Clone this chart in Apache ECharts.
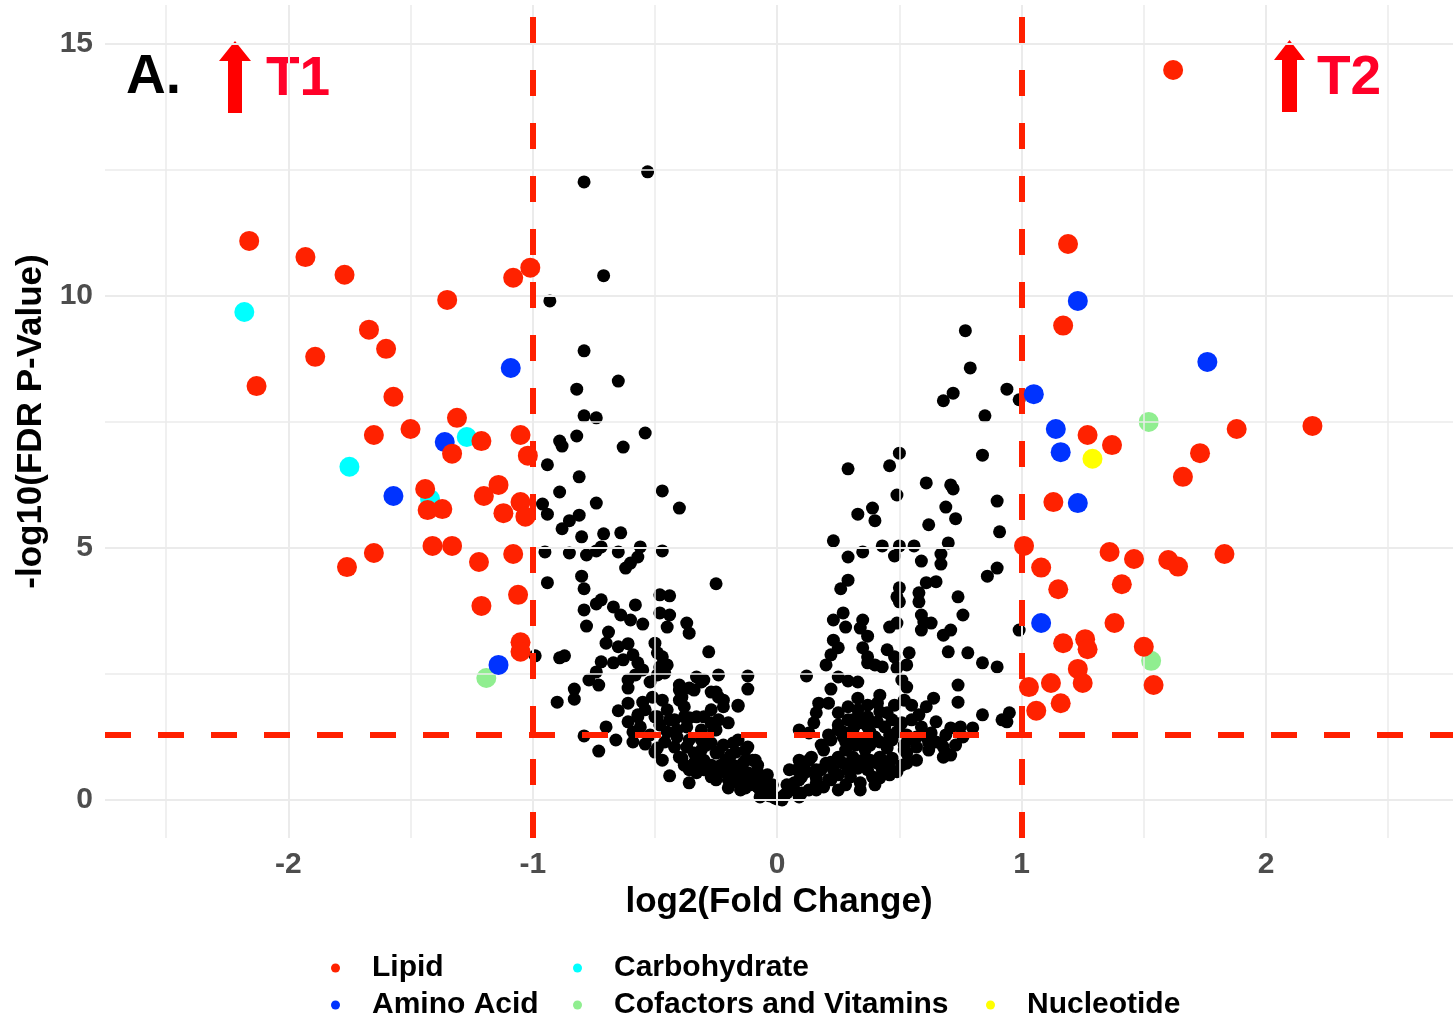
<!DOCTYPE html>
<html><head><meta charset="utf-8">
<script src="https://cdn.jsdelivr.net/npm/echarts@6/dist/echarts.min.js"></script>
<style>html,body{margin:0;padding:0;background:#fff}#chart{width:1453px;height:1026px}</style>
</head><body><div id="chart"></div>
<script>
// ---- tick labels and reference lines ----
const xTicks = [-2, -1, 0, 1, 2];
const yTicks = [0, 5, 10, 15];
const xGridMajor = [-2, -1, 0, 1, 2];
const xGridMinor = [-2.5, -1.5, -0.5, 0.5, 1.5, 2.5];
const yGridMajor = [0, 5, 10, 15];
const yGridMinor = [2.5, 7.5, 12.5];
const fcCutoffs = [-1, 1];
const pCutoff = 1.301;
const categories = ['Lipid', 'Amino Acid', 'Carbohydrate', 'Cofactors and Vitamins', 'Nucleotide'];

// ---- series values: [log2FC, -log10 FDR p] ----
const lipid = [
[-2.16,11.09],[-1.93,10.77],[-1.77,10.42],[-1.35,9.92],[-1.67,9.33],[-1.60,8.95],[-1.89,8.79],[-2.13,8.21],
[-1.57,8.00],[-1.31,7.58],[-1.50,7.36],[-1.65,7.24],[-1.21,7.12],[-1.05,7.24],[-1.02,6.83],[-1.33,6.87],
[-1.01,10.56],[-1.08,10.36],[-1.44,6.17],[-1.43,5.75],[-1.37,5.77],[-1.14,6.25],[-1.20,6.03],[-1.12,5.69],
[-1.05,5.91],[-1.03,5.62],[-1.41,5.04],[-1.33,5.04],[-1.65,4.90],[-1.76,4.62],[-1.22,4.72],[-1.08,4.88],
[-1.06,4.07],[-1.21,3.85],[-1.05,3.13],[-1.05,2.94],
[1.62,14.48],[1.19,11.03],[1.17,9.41],[1.27,7.24],[1.37,7.04],[1.88,7.36],[2.19,7.42],[1.73,6.88],
[1.66,6.41],[1.13,5.91],[1.01,5.04],[1.36,4.92],[1.46,4.78],[1.60,4.76],[1.64,4.63],[1.83,4.88],
[1.08,4.61],[1.15,4.18],[1.41,4.28],[1.38,3.51],[1.17,3.11],[1.26,3.19],[1.27,2.99],[1.50,3.04],
[1.54,2.28],[1.23,2.60],[1.25,2.32],[1.03,2.24],[1.12,2.32],[1.16,1.92],[1.06,1.77]
];
const aminoAcid = [[-1.09,8.57],[-1.36,7.10],[-1.57,6.03],[-1.14,2.68],[1.23,9.90],[1.76,8.69],[1.05,8.05],[1.14,7.36],[1.16,6.90],[1.23,5.89],[1.08,3.51]];
const carbohydrate = [[-2.18,9.68],[-1.27,7.20],[-1.75,6.61],[-1.42,5.97]];
const cofactors = [[-1.19,2.42],[1.52,7.50],[1.53,2.76]];
const nucleotide = [[1.29,6.77]];
const other = [
[-0.53,12.46],[-0.79,12.26],[-0.71,10.40],[-0.93,9.90],[-0.79,8.91],[-0.65,8.31],[-0.82,8.15],[-0.79,7.62],[-0.74,7.58],[-0.54,7.28],
[-0.89,7.12],[-0.88,7.02],[-0.82,7.22],[-0.63,7.00],[-0.94,6.65],[-0.81,6.41],[-0.89,6.11],[-0.47,6.13],[-0.40,5.79],[-0.74,5.89],
[-0.96,5.87],[-0.94,5.67],[-0.81,5.65],[-0.85,5.54],[-0.88,5.38],[-0.80,5.22],[-0.71,5.28],[-0.64,5.30],[-0.95,4.92],[-0.85,4.90],
[-0.78,4.86],[-0.74,4.94],[-0.72,5.02],[-0.65,4.92],[-0.56,5.02],[-0.57,4.82],[-0.60,4.70],[-0.62,4.60],[-0.47,4.94],[-0.80,4.44],
[-0.94,4.31],[-0.79,4.19],[-0.25,4.29],[-0.48,4.07],[-0.44,4.05],[-0.72,3.97],[-0.74,3.89],[-0.79,3.77],[-0.67,3.83],[-0.58,3.87],
[-0.64,3.67],[-0.60,3.57],[-0.48,3.71],[-0.44,3.67],[-0.45,3.43],[-0.55,3.49],[-0.37,3.51],[-0.36,3.31],[-0.78,3.45],[-0.69,3.33],
[-0.70,3.11],[-0.65,3.04],[-0.61,3.10],[-0.50,3.11],[-0.49,2.92],[-0.99,2.86],[-0.89,2.82],[-0.87,2.86],[-0.28,2.94],[-0.72,2.74],
[-0.67,2.72],[-0.63,2.78],[-0.59,2.88],[-0.57,2.72],[-0.55,2.58],[-0.74,2.54],[-0.77,2.38],[-0.73,2.28],[-0.61,2.38],[-0.61,2.22],
[-0.58,2.48],[-0.52,2.34],[-0.49,2.48],[-0.46,2.52],[-0.45,2.68],[-0.83,2.20],[-0.83,2.00],[-0.90,1.94],[-0.40,2.28],[-0.36,2.22],
[-0.33,2.44],[-0.30,2.38],[-0.24,2.48],[-0.12,2.46],[-0.12,2.20],[-0.25,2.14],[-0.22,1.98],[-0.16,1.86],[-0.61,1.92],[-0.65,1.77],
[-0.55,1.94],[-0.57,1.65],[-0.54,1.79],[-0.51,2.04],[-0.47,1.98],[-0.49,1.65],[-0.45,1.79],[-0.44,1.59],[-0.40,1.98],[-0.38,1.85],
[-0.38,1.65],[-0.37,1.45],[-0.30,1.65],[-0.27,1.79],[-0.27,1.53],[-0.25,1.39],[-0.20,1.53],[-0.70,1.45],[-0.79,1.27],[-0.73,0.97],
[-0.59,1.35],[-0.59,1.15],[-0.54,1.11],[-0.49,1.03],[-0.46,1.15],[-0.45,1.35],[-0.41,1.25],[-0.37,1.05],[-0.39,0.83],[-0.34,0.93],
[-0.31,1.19],[-0.27,1.13],[-0.30,0.79],[-0.22,1.09],[-0.19,0.89],[-0.16,1.19],[-0.12,1.05],[-0.09,0.79],[-0.14,0.73],[-0.44,0.48],
[-0.36,0.34],[-0.33,0.54],[-0.26,0.46],[-0.19,0.36],[-0.15,0.20],[-0.11,0.30],[-0.06,0.40],[-0.03,0.16],[0.01,0.04],[0.04,0.30],
[-0.07,0.06],[-0.47,2.84],[-0.48,2.64],[-0.40,2.18],[-0.39,2.04],[-0.34,2.18],[-0.31,2.34],[-0.27,2.14],[-0.24,2.04],[-0.22,1.85],
[-0.16,1.88],[-0.57,1.69],[-0.50,1.65],[-0.41,1.39],[-0.36,1.63],[-0.33,1.65],[-0.26,1.39],[-0.24,1.59],[-0.42,1.05],[-0.25,0.93],
[-0.18,1.13],[-0.13,0.99],[-0.10,0.79],[-0.40,0.85],[-0.34,0.73],[-0.30,0.60],[-0.27,0.46],[-0.25,0.65],[-0.20,0.40],[-0.16,0.34],
[-0.13,0.24],[-0.10,0.40],[-0.07,0.20],[-0.04,0.10],[-0.01,0.04],[0.00,0.02],[-0.23,0.69],[-0.18,0.60],[-0.13,0.50],[-0.08,0.56],
[-0.05,0.28],
[-0.52,1.29],[-0.48,1.49],[-0.42,1.59],[-0.36,1.19],[-0.31,1.39],[-0.29,1.09],[-0.24,0.95],[-0.21,0.79],[-0.18,0.69],[-0.15,0.60],
[-0.12,0.54],[-0.10,0.36],[-0.08,0.26],[-0.05,0.16],[-0.03,0.08],[-0.13,0.40],[-0.17,0.50],[-0.22,0.56],[-0.27,0.69],[-0.33,0.79],
[-0.38,0.69],[-0.25,0.40],[-0.20,0.24],[-0.31,0.99],[-0.47,0.79],[-0.36,0.60],[-0.17,0.95],[-0.13,0.79],[-0.08,0.69],[-0.04,0.50],
[-0.02,0.30],[-0.07,0.46],[-0.56,1.45],[-0.61,1.55],[-0.66,1.19],[-0.50,0.95],
[0.77,9.31],[0.79,8.57],[0.94,8.15],[0.72,8.07],[0.68,7.92],[0.85,7.62],[0.99,7.94],[0.50,6.88],[0.46,6.63],[0.29,6.57],
[0.84,6.84],[0.61,6.29],[0.71,6.25],[0.72,6.17],[0.49,6.05],[0.90,5.93],[0.39,5.79],[0.40,5.54],[0.33,5.67],[0.69,5.81],
[0.73,5.58],[0.62,5.46],[0.91,5.32],[0.23,5.14],[0.35,4.92],[0.29,4.82],[0.43,5.04],[0.50,5.04],[0.56,5.04],[0.70,5.10],
[0.67,4.88],[0.48,4.84],[0.59,4.74],[0.67,4.68],[0.90,4.60],[0.86,4.44],[0.29,4.36],[0.26,4.19],[0.50,4.21],[0.49,4.03],
[0.50,3.93],[0.61,4.31],[0.65,4.33],[0.58,4.11],[0.58,3.93],[0.74,4.03],[0.76,3.67],[0.99,3.37],[0.23,3.57],[0.27,3.71],
[0.28,3.43],[0.35,3.57],[0.34,3.41],[0.37,3.25],[0.46,3.43],[0.49,3.51],[0.59,3.67],[0.60,3.53],[0.63,3.51],[0.59,3.37],
[0.68,3.27],[0.71,3.37],[0.23,3.17],[0.25,3.02],[0.22,2.88],[0.20,2.68],[0.35,3.02],[0.37,2.84],[0.37,2.72],[0.40,2.68],
[0.43,2.64],[0.45,2.98],[0.48,2.84],[0.54,2.92],[0.53,2.68],[0.49,2.62],[0.70,2.94],[0.78,2.92],[0.84,2.72],[0.90,2.64],
[0.12,2.46],[0.25,2.44],[0.29,2.36],[0.33,2.34],[0.22,2.20],[0.51,2.38],[0.53,2.24],[0.52,1.98],[0.42,2.08],[0.41,1.92],
[0.74,2.28],[0.74,1.94],[0.64,2.02],[0.61,1.85],[0.17,1.92],[0.21,1.92],[0.16,1.73],[0.25,1.73],[0.29,1.85],[0.33,1.79],
[0.31,1.59],[0.37,1.65],[0.41,1.55],[0.45,1.73],[0.47,1.59],[0.51,1.53],[0.55,1.59],[0.84,1.69],[0.92,1.59],[0.95,1.73],
[0.94,1.55],[0.71,1.43],[0.75,1.45],[0.80,1.43],[0.76,1.25],[0.09,1.39],[0.13,1.33],[0.15,1.53],[0.25,1.49],[0.27,1.35],
[0.31,1.39],[0.35,1.53],[0.38,1.35],[0.44,1.45],[0.46,1.29],[0.49,1.35],[0.53,1.29],[0.57,1.25],[0.61,1.25],[0.65,1.15],
[0.68,1.05],[0.68,0.85],[0.62,0.99],[0.57,1.05],[0.53,0.93],[0.47,0.83],[0.51,0.69],[0.49,0.56],[0.42,0.85],[0.41,0.73],
[0.42,0.44],[0.35,0.79],[0.37,0.60],[0.31,0.85],[0.71,0.89],[0.33,2.02],[0.50,1.39],[0.59,1.45],[0.63,1.33],[0.67,1.13],
[0.69,0.93],[0.62,1.13],[0.56,1.19],[0.52,0.99],[0.53,0.73],[0.46,0.73],[0.43,0.60],[0.39,0.46],[0.34,0.34],[0.30,0.46],
[0.30,0.73],[0.36,0.99],[0.40,1.25],[0.37,1.45],[0.33,1.65],[0.29,1.59],[0.25,1.39],[0.27,1.25],[0.31,1.25],[0.22,1.19],
[0.19,0.99],[0.04,0.14],[0.07,0.34],[0.10,0.46],[0.13,0.20],[0.16,0.34],[0.19,0.26],[0.22,0.40],[0.25,0.20],[0.11,0.65],
[0.16,0.60],[0.20,0.73],[0.23,0.60],[0.27,0.73],[0.14,0.85],[0.09,0.79],[0.05,0.60],[0.09,0.06],[0.02,0.00],[0.07,0.20],
[0.03,0.10],[0.06,0.26],[0.09,0.40],[0.12,0.56],[0.16,0.44],[0.18,0.60],[0.22,0.75],[0.25,0.85],[0.28,0.99],[0.32,1.09],
[0.35,1.19],[0.38,1.09],[0.42,1.15],[0.45,1.03],[0.47,1.19],[0.33,0.63],[0.29,0.60],[0.25,0.50],[0.21,0.40],[0.16,0.20],
[0.10,0.14],[0.08,0.60],[0.13,0.79],[0.18,1.09],[0.21,1.29],[0.28,1.15],[0.32,1.49],[0.37,1.88],[0.42,1.75],[0.48,1.88],
[0.55,1.88],[0.58,1.69],[0.65,1.55],[0.69,1.29],[0.73,1.09],[0.52,1.09],[0.38,0.79],[0.44,0.69],[0.40,0.30],[0.34,0.20],
[0.28,0.30],[0.46,0.50],[0.57,0.79]
];

const FONT = '"Liberation Sans", Arial, sans-serif';
const chart = echarts.init(document.getElementById('chart'), null, {renderer: 'canvas'});

const gridLines = []
  .concat(xGridMajor.map(v => ({xAxis: v, lineStyle: {width: 2}})))
  .concat(xGridMinor.map(v => ({xAxis: v, lineStyle: {width: 1.5}})))
  .concat(yGridMajor.map(v => ({yAxis: v, lineStyle: {width: 2}})))
  .concat(yGridMinor.map(v => ({yAxis: v, lineStyle: {width: 1.5}})));

const threshLines = fcCutoffs.map(v => ({xAxis: v})).concat([{yAxis: pCutoff}]);

const colorMap = {
  'Lipid': '#ff2200',
  'Amino Acid': '#0033ff',
  'Carbohydrate': '#00ffff',
  'Cofactors and Vitamins': '#90ee90',
  'Nucleotide': '#ffff00'
};
const dataMap = {
  'Lipid': lipid,
  'Amino Acid': aminoAcid,
  'Carbohydrate': carbohydrate,
  'Cofactors and Vitamins': cofactors,
  'Nucleotide': nucleotide
};
const drawOrder = ['Cofactors and Vitamins', 'Nucleotide', 'Carbohydrate', 'Amino Acid', 'Lipid'];

const legendText = {color: '#000', fontSize: 30, fontWeight: 'bold', fontFamily: FONT, padding: [0, 0, 0, 27]};
function legendAt(name, left, top) {
  return {
    data: [name], left: left, top: top, icon: 'circle',
    itemWidth: 9, itemHeight: 9, selectedMode: false,
    textStyle: legendText
  };
}

const option = {
  animation: false,
  backgroundColor: '#fff',
  grid: {left: 105, right: 0, top: 5, bottom: 188, containLabel: false},
  xAxis: {
    type: 'value', min: -2.75, max: 2.765,
    name: 'log2(Fold Change)', nameLocation: 'middle', nameGap: 45,
    nameTextStyle: {color: '#000', fontSize: 35, fontWeight: 'bold', fontFamily: FONT},
    axisLine: {show: false}, axisTick: {show: false}, splitLine: {show: false},
    axisLabel: {customValues: xTicks, margin: 12, color: '#4d4d4d', fontSize: 30, fontWeight: 'bold', fontFamily: FONT}
  },
  yAxis: {
    type: 'value', min: -0.754, max: 15.77,
    name: '-log10(FDR P-Value)', nameLocation: 'middle', nameGap: 56,
    nameTextStyle: {color: '#000', fontSize: 35, fontWeight: 'bold', fontFamily: FONT},
    axisLine: {show: false}, axisTick: {show: false}, splitLine: {show: false},
    axisLabel: {customValues: yTicks, margin: 12, color: '#4d4d4d', fontSize: 30, fontWeight: 'bold', fontFamily: FONT}
  },
  legend: [
    legendAt('Lipid', 326, 948),
    legendAt('Amino Acid', 326, 985),
    legendAt('Carbohydrate', 568, 948),
    legendAt('Cofactors and Vitamins', 568, 985),
    legendAt('Nucleotide', 981, 985)
  ],
  series: [
    {
      type: 'scatter', name: 'gridlines', data: [], z: 0, silent: true,
      markLine: {silent: true, symbol: 'none', label: {show: false}, animation: false,
        lineStyle: {color: '#ebebeb', type: 'solid'}, emphasis: {disabled: true}, data: gridLines}
    },
    {
      type: 'scatter', name: 'Other', data: other, z: 2, symbolSize: 13,
      itemStyle: {color: '#000', opacity: 1}, silent: true
    }
  ].concat(drawOrder.map((n, i) => ({
    type: 'scatter', name: n, data: dataMap[n], z: 3 + i, symbolSize: 20,
    itemStyle: {color: colorMap[n], opacity: 1}, silent: true
  }))).concat([
    {
      type: 'scatter', name: 'thresholds', data: [], z: 20, silent: true,
      markLine: {silent: true, symbol: 'none', label: {show: false}, animation: false,
        lineStyle: {color: '#ff2000', type: [26, 27], width: 6}, emphasis: {disabled: true}, data: threshLines}
    }
  ]),
  graphic: [
    {type: 'text', left: 126, top: 50, style: {text: 'A.', font: 'bold 55px ' + FONT, fill: '#000'}},
    {type: 'polygon', shape: {points: [[235,41],[251,61],[242,61],[242,113],[228,113],[228,61],[219,61]]}, style: {fill: '#ff0000'}},
    {type: 'text', left: 266, top: 52, style: {text: 'T1', font: 'bold 55px ' + FONT, fill: '#ff0028'}},
    {type: 'polygon', shape: {points: [[1289.5,40],[1305,60],[1297,60],[1297,112],[1282,112],[1282,60],[1274,60]]}, style: {fill: '#ff0000'}},
    {type: 'text', left: 1317, top: 51, style: {text: 'T2', font: 'bold 55px ' + FONT, fill: '#ff0028'}}
  ]
};
chart.setOption(option);
</script>
</body></html>
